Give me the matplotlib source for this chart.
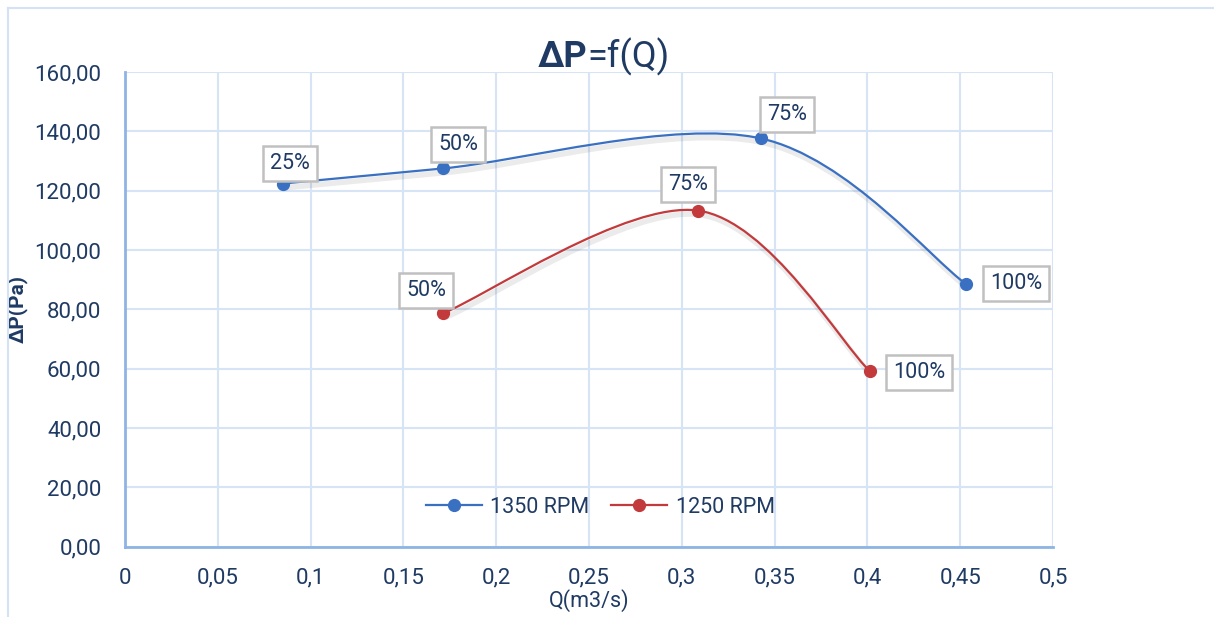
import matplotlib
matplotlib.use("Agg")
import matplotlib.pyplot as plt
from matplotlib.path import Path
from matplotlib.patches import PathPatch
from matplotlib.lines import Line2D
from matplotlib.ticker import FuncFormatter, MultipleLocator
import matplotlib.patheffects as pe

plt.rcParams['font.family'] = ['Roboto', 'DejaVu Sans']

# donnees
q_1350 = [0.085, 0.1715, 0.3427, 0.453]
dp_1350 = [122.4, 127.5, 137.6, 88.6]
lbl_1350 = ['25%', '50%', '75%', '100%']

q_1250 = [0.1715, 0.3087, 0.4014]
dp_1250 = [78.7, 113.3, 59.1]
lbl_1250 = ['50%', '75%', '100%']

navy = '#1F3A63'
bleu = '#3A70C2'
rouge = '#C23A3C'

# decalage des etiquettes (pixels)
off_1350 = [(7, 20), (15, 24), (26, 24), (50, 0)]
off_1250 = [(-17, 23), (-10, 26), (49, -1)]


# courbe lissee facon Excel (bezier type catmull-rom)
def courbe(xs, ys):
    pts = list(zip(xs, ys))
    verts = [pts[0]]
    codes = [Path.MOVETO]
    n = len(pts)
    for i in range(n - 1):
        p0 = pts[max(i - 1, 0)]
        p1 = pts[i]
        p2 = pts[i + 1]
        p3 = pts[min(i + 2, n - 1)]
        c1 = (p1[0] + (p2[0] - p0[0]) / 6, p1[1] + (p2[1] - p0[1]) / 6)
        c2 = (p2[0] - (p3[0] - p1[0]) / 6, p2[1] - (p3[1] - p1[1]) / 6)
        verts += [c1, c2, p2]
        codes += [Path.CURVE4] * 3
    return Path(verts, codes)


fig = plt.figure(figsize=(12.14, 6.17), dpi=100)
ax = fig.add_axes([125 / 1214, 1 - 546.7 / 617, 928 / 1214, 474.7 / 617])

# cadre exterieur
fig.add_artist(Line2D([8 / 1214, 8 / 1214], [0, 1 - 8 / 617], transform=fig.transFigure, color='#D3E2F4', lw=1.5))
fig.add_artist(Line2D([8 / 1214, 1], [1 - 8 / 617, 1 - 8 / 617], transform=fig.transFigure, color='#D3E2F4', lw=1.5))

for xs, ys, c in [(q_1350, dp_1350, bleu), (q_1250, dp_1250, rouge)]:
    patch = PathPatch(courbe(xs, ys), facecolor='none', edgecolor=c, lw=1.6, zorder=3)
    patch.set_path_effects([pe.SimpleLineShadow(offset=(1.5, -3), alpha=0.08, shadow_color='k', linewidth=4), pe.Normal()])
    ax.add_patch(patch)
    ax.plot(xs, ys, 'o', color=c, ms=8.5, zorder=4)

boite = dict(boxstyle='square,pad=0.32', fc='white', ec='#C0C0C0', lw=1.8)
for xs, ys, lbls, offs in [(q_1350, dp_1350, lbl_1350, off_1350), (q_1250, dp_1250, lbl_1250, off_1250)]:
    for x, y, t, o in zip(xs, ys, lbls, offs):
        ax.annotate(t, (x, y), xytext=o, textcoords='offset pixels', ha='center', va='center',
                    fontsize=15.5, color=navy, bbox=boite, zorder=5)

ax.set_xlim(0, 0.5)
ax.set_ylim(0, 160)
ax.xaxis.set_major_locator(MultipleLocator(0.05))
ax.yaxis.set_major_locator(MultipleLocator(20))
ax.xaxis.set_major_formatter(FuncFormatter(lambda v, p: f"{v:g}".replace('.', ',')))
ax.yaxis.set_major_formatter(FuncFormatter(lambda v, p: f"{v:.2f}".replace('.', ',')))
ax.grid(True, color='#D6E4F5', lw=1.5)
ax.set_axisbelow(True)
for s in ['top', 'right']:
    ax.spines[s].set_visible(False)
for s in ['left', 'bottom']:
    ax.spines[s].set_color('#8EB4E3')
    ax.spines[s].set_linewidth(2)
ax.tick_params(length=0, labelsize=16, labelcolor=navy)
ax.tick_params(axis='y', pad=17)
ax.tick_params(axis='x', pad=15)

ax.set_xlabel('Q(m3/s)', fontsize=15.5, color=navy, labelpad=0)
ax.set_ylabel('ΔP(Pa)', fontsize=15, color=navy, fontweight='bold', labelpad=5)

# titre : "ΔP" en gras, le reste normal
fig.text(587 / 1214, 1 - 57 / 617, 'ΔP', ha='right', va='center', fontsize=26, color=navy, fontweight='bold')
fig.text(587 / 1214, 1 - 57 / 617, '=f(Q)', ha='left', va='center', fontsize=26, color=navy)

handles = [Line2D([], [], color=bleu, marker='o', ms=8.5, lw=1.6),
           Line2D([], [], color=rouge, marker='o', ms=8.5, lw=1.6)]
ax.legend(handles, ['1350 RPM', '1250 RPM'], loc='center', bbox_to_anchor=(0.512, 0.083), ncol=2,
          frameon=False, fontsize=15.5, labelcolor=navy, handlelength=2.6, columnspacing=1.0, handletextpad=0.4)

fig.savefig('out.png', dpi=100)
